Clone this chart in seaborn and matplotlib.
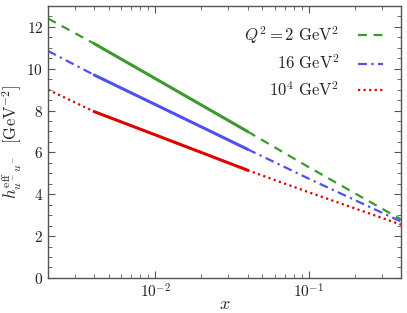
import numpy as np
import pandas as pd
import seaborn as sns
import matplotlib
matplotlib.use("Agg")
import matplotlib.pyplot as plt
from matplotlib.ticker import MultipleLocator, LogLocator, NullFormatter

# ---- data ----
x_vals = [0.002, 0.004, 0.01, 0.04, 0.1, 0.4]
h_q2_2 = [12.4, 11.2, 9.53, 7.0, 5.3, 2.8]
h_q2_16 = [10.85, 9.7, 8.29, 6.15, 4.75, 2.7]
h_q2_1e4 = [9.0, 7.95, 6.84, 5.15, 4.1, 2.55]
labels = [r"$Q^2 = 2\ \mathrm{GeV}^2$", r"$16\ \mathrm{GeV}^2$", r"$10^4\ \mathrm{GeV}^2$"]
colors = ["#3a9a2a", "#5050f0", "#e00000"]

sns.set_style("ticks")
plt.rcParams.update({
    "font.family": "serif",
    "font.serif": ["cmr10", "DejaVu Serif"],
    "mathtext.fontset": "cm",
    "axes.formatter.use_mathtext": True,
    "axes.unicode_minus": False,
    "xtick.direction": "in",
    "ytick.direction": "in",
    "axes.edgecolor": "#555555",
    "xtick.color": "#555555",
    "ytick.color": "#555555",
    "xtick.labelcolor": "#222222",
    "ytick.labelcolor": "#222222",
})

fig = plt.figure(figsize=(4.07, 3.13), dpi=100)
ax = fig.add_axes([0.118, 0.112, 0.867, 0.869])

styles = [(0, (4, 3)), (0, (4, 2, 1, 2)), (0, (1, 1.5))]
for vals, lab, col, ls in zip([h_q2_2, h_q2_16, h_q2_1e4], labels, colors, styles):
    df = pd.DataFrame({"x": x_vals, "h": vals})
    lo = df.iloc[0:2]
    mid = df.iloc[1:4]
    hi = df.iloc[3:6]
    sns.lineplot(data=lo, x="x", y="h", ax=ax, color=col, lw=1.6, linestyle=ls, label=lab)
    sns.lineplot(data=mid, x="x", y="h", ax=ax, color=col, lw=2.2, linestyle="-", label="_nolegend_")
    sns.lineplot(data=hi, x="x", y="h", ax=ax, color=col, lw=1.6, linestyle=ls, label="_nolegend_")

ax.set_xscale("log")
ax.set_xlim(0.002, 0.4)
ax.set_ylim(0, 13)
ax.yaxis.set_major_locator(MultipleLocator(2))
ax.yaxis.set_minor_locator(MultipleLocator(0.5))
ax.xaxis.set_minor_locator(LogLocator(base=10, subs=np.arange(2, 10)))
ax.xaxis.set_minor_formatter(NullFormatter())
ax.tick_params(which="both", top=True, right=True, labelsize=11)
ax.tick_params(which="major", length=5)
ax.tick_params(which="minor", length=3)
for s in ax.spines.values():
    s.set_linewidth(1.0)

ax.set_xlabel(r"$x$", fontsize=13, labelpad=-3)
ax.set_ylabel(r"$h^{\rm eff}_{u^-u^-}\ \ [\mathrm{GeV}^{-2}]$", fontsize=12, labelpad=2)

ax.legend(loc="upper right", frameon=False, markerfirst=False, fontsize=12,
          handlelength=1.5, labelspacing=0.45, borderaxespad=0.7, handletextpad=1.1)

fig.savefig("out.png", dpi=100)
